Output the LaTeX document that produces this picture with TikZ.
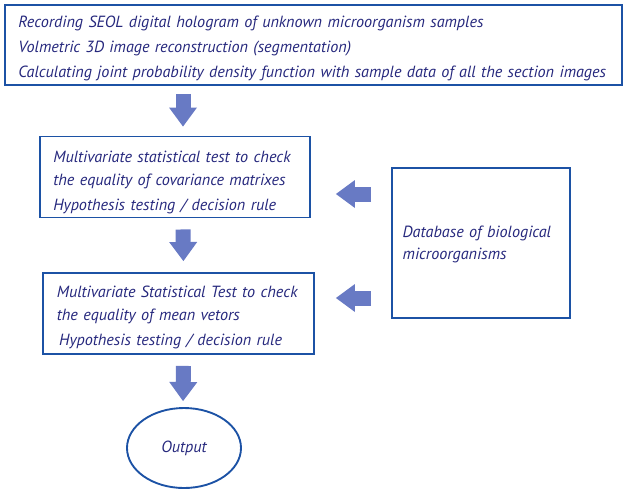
\documentclass[tikz,border=0pt]{standalone}
\usepackage{fontspec}
\setmainfont{PT Sans}
\usetikzlibrary{arrows.meta,shapes.geometric}
\definecolor{boxblue}{RGB}{28,82,165}
\definecolor{arrowblue}{RGB}{104,122,196}
\definecolor{textblue}{RGB}{38,40,125}
\tikzset{
  stepbox/.style={draw=boxblue, line width=1.6pt, rectangle, align=left,
    text=textblue, font=\itshape\fontsize{13.8}{21.3}\selectfont, inner xsep=0.4cm},
  blockarrow/.style={draw=arrowblue, line width=0.45cm,
    -{Triangle[width=0.84cm,length=0.57cm,line width=0pt]}}
}
\begin{document}
\begin{tikzpicture}[x=0.03cm,y=-0.03cm]
  \path[use as bounding box] (0,0) rectangle (626,492);
  % boxes
  \node[stepbox, minimum width=617*0.03cm, minimum height=80*0.03cm, text width=17.7cm] (record) at (313.5,45)
    {\rule{0pt}{15pt}Recording SEOL digital hologram of unknown microorganism samples\\
     Volmetric 3D image reconstruction (segmentation)\\
     Calculating joint probability density function with sample data of all the section images};
  \node[stepbox, minimum width=270*0.03cm, minimum height=80*0.03cm, text width=7.3cm] (covtest) at (175,177)
    {\rule{0pt}{19pt}Multivariate statistical test to check\\[-2pt]
     the equality of covariance matrixes\\
     Hypothesis testing / decision rule};
  \node[stepbox, minimum width=271*0.03cm, minimum height=81*0.03cm, text width=7.3cm] (meantest) at (178.5,313.5)
    {\rule{0pt}{17pt}Multivariate Statistical Test to check\\[-2pt]
     the equality of mean vetors\\
     \hspace*{2pt}Hypothesis testing / decision rule};
  \node[stepbox, minimum width=178*0.03cm, minimum height=150*0.03cm, text width=4.7cm, inner xsep=0.3cm] (database) at (481,243)
    {\rule{0pt}{12pt}Database of biological\\[-2pt]
     microorganisms};
  \node[draw=boxblue, line width=1.6pt, ellipse, minimum width=114*0.03cm, minimum height=80*0.03cm,
    text=textblue, font=\itshape\fontsize{13.8}{21.3}\selectfont] (output) at (184,448) {Output};
  % block arrows
  \draw[blockarrow, shorten <=0.24cm, shorten >=0.27cm] ([xshift=0.24cm]record.south -| covtest.north) -- ([xshift=0.24cm]covtest.north);
  \draw[blockarrow, shorten <=0.33cm, shorten >=0.33cm] ([xshift=0.24cm]covtest.south) -- ([xshift=0.15cm]meantest.north);
  \draw[blockarrow, shorten <=0.33cm, shorten >=0.18cm] ([xshift=0.15cm]meantest.south) -- (output.north -| 183,0);
  \draw[blockarrow, shorten <=0.6cm, shorten >=0.75cm] (database.west |- 0,194) -- (covtest.east |- 0,194);
  \draw[blockarrow, shorten <=0.6cm, shorten >=0.63cm] (database.west |- 0,298) -- (meantest.east |- 0,298);
\end{tikzpicture}
\end{document}
